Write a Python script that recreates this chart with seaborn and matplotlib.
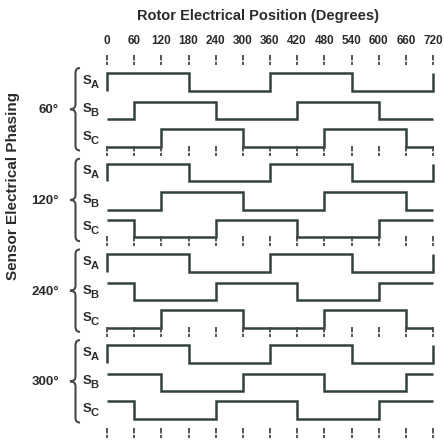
import matplotlib
matplotlib.use("Agg")
import matplotlib.pyplot as plt
from matplotlib.path import Path
from matplotlib.patches import PathPatch
import pandas as pd
import seaborn as sns

# ---- chart content ----
title = "Rotor Electrical Position (Degrees)"
y_title = "Sensor Electrical Phasing"
degree_ticks = [0, 60, 120, 180, 240, 300, 360, 420, 480, 540, 600, 660, 720]
phasings = ["60°", "120°", "240°", "300°"]
sensors = ["A", "B", "C"]

# level at 0° (0 = low, 1 = high) and switching angles of S_A, S_B, S_C
phase60_start = [0, 0, 0]
phase60_edges = [[0, 180, 360, 540, 720], [60, 240, 420, 600], [120, 300, 480, 660]]
phase120_start = [0, 0, 1]
phase120_edges = [[0, 180, 360, 540, 720], [120, 300, 480, 660], [60, 240, 420, 600]]
phase240_start = [0, 1, 0]
phase240_edges = [[0, 180, 360, 540, 720], [60, 240, 420, 600], [120, 300, 480, 660]]
phase300_start = [0, 1, 1]
phase300_edges = [[0, 180, 360, 540, 720], [120, 300, 480, 660], [60, 240, 420, 600]]

starts = [phase60_start, phase120_start, phase240_start, phase300_start]
edges = [phase60_edges, phase120_edges, phase240_edges, phase300_edges]

# ---- layout (figure pixels) ----
W, H = 444, 442
X0_PX, X720_PX = 107, 433
PPD = (X720_PX - X0_PX) / 720.0
GROUP_TOP = 73
GROUP_PITCH = 90.7
ROW_OFF = [0, 28.5, 56]
ROW_H = 17.5
LINE_COL = "#33423b"
TEXT_COL = "#2b2b2b"
TICK_COL = "#474747"


def px2deg(px):
    return (px - X0_PX) / PPD


sns.set_theme(style="white")
plt.rcParams["font.family"] = ["Liberation Sans", "DejaVu Sans"]

fig = plt.figure(figsize=(W / 100, H / 100), dpi=100)
ax = fig.add_axes([0, 0, 1, 1])

# build step traces
rows = []
for g, (st, ed) in enumerate(zip(starts, edges)):
    base = GROUP_TOP + g * GROUP_PITCH
    for s in range(3):
        top = base + ROW_OFF[s]
        lvl = st[s]
        trace = f"{phasings[g]}-{sensors[s]}"
        pts = [(0, lvl)]
        for e in ed[s]:
            pts.append((e, lvl))
            lvl = 1 - lvl
            pts.append((e, lvl))
        pts.append((720, lvl))
        for order, (x, v) in enumerate(pts):
            rows.append({"trace": trace, "order": order, "deg": x,
                         "y": top + (1 - v) * ROW_H})
df = pd.DataFrame(rows)

sns.lineplot(data=df, x="deg", y="y", units="trace", estimator=None,
             sort=False, color=LINE_COL, linewidth=1.8, ax=ax,
             solid_joinstyle="miter", solid_capstyle="butt")
ax.set_xlim(px2deg(0), px2deg(W))
ax.set_ylim(H, 0)
ax.axis("off")

# tick rows above, between and below the groups
tick_centres = [GROUP_TOP + g * GROUP_PITCH - 13 for g in range(4)]
tick_centres.append(GROUP_TOP + 3 * GROUP_PITCH + ROW_OFF[2] + ROW_H + 14)
for yc in tick_centres:
    ax.vlines(degree_ticks, yc - 5, yc + 5, colors=TICK_COL,
              linewidth=1.3, linestyles=(0, (3, 0.8)))

# tick labels and title
for d in degree_ticks:
    ax.text(d, 41, str(d), ha="center", va="center", fontsize=8.5,
            fontweight="bold", color=TEXT_COL)
ax.text(px2deg(258), 16, title, ha="center", va="center", fontsize=10.5,
        fontweight="bold", color=TEXT_COL)
ax.text(px2deg(13), 186, y_title, ha="center", va="center", rotation=90,
        fontsize=11, fontweight="bold", color=TEXT_COL)


def brace(y0, y1, xl, xm, xr, r=5):
    ymid = (y0 + y1) / 2
    X = px2deg
    verts = [
        (X(xr), y0), (X(xm), y0), (X(xm), y0 + r),
        (X(xm), ymid - r),
        (X(xm), ymid), (X(xl), ymid),
        (X(xm), ymid), (X(xm), ymid + r),
        (X(xm), y1 - r),
        (X(xm), y1), (X(xr), y1),
    ]
    codes = [Path.MOVETO, Path.CURVE3, Path.CURVE3, Path.LINETO,
             Path.CURVE3, Path.CURVE3, Path.CURVE3, Path.CURVE3,
             Path.LINETO, Path.CURVE3, Path.CURVE3]
    ax.add_patch(PathPatch(Path(verts, codes), fill=False,
                           edgecolor=TICK_COL, linewidth=1.5))


for g in range(4):
    base = GROUP_TOP + g * GROUP_PITCH
    brace(base - 5, base + ROW_OFF[2] + ROW_H + 4, 70, 75.5, 80)
    ax.text(px2deg(59), base + ROW_OFF[1] + ROW_H / 2, phasings[g],
            ha="right", va="center", fontsize=9.5, fontweight="bold",
            color=TEXT_COL)
    for s in range(3):
        yc = base + ROW_OFF[s] + ROW_H / 2
        ax.text(px2deg(83), yc - 1, "S", ha="left", va="center",
                fontsize=9.5, fontweight="bold", color=TEXT_COL)
        ax.text(px2deg(90.5), yc + 3, sensors[s], ha="left", va="center",
                fontsize=8, fontweight="bold", color=TEXT_COL)

fig.savefig("out.png", dpi=100, facecolor="white")
